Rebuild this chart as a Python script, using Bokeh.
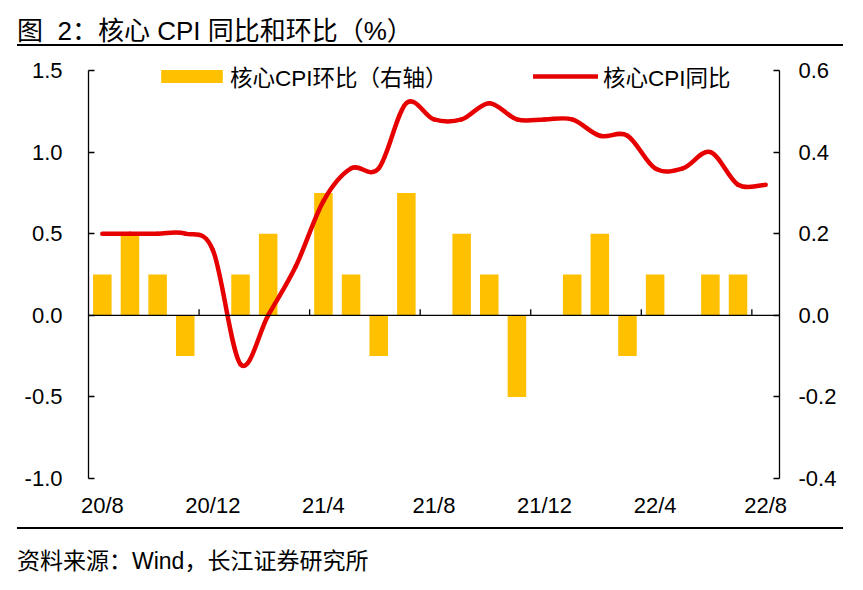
import numpy as np
from bokeh.plotting import figure
from bokeh.models import (Range1d, LinearAxis, FixedTicker, Span, Legend, LegendItem,
                          Div, ColumnDataSource, PrintfTickFormatter)
from bokeh.layouts import column
from bokeh.embed import file_html
from bokeh.resources import INLINE

# ---------------- data ----------------
months = ["20/8", "20/9", "20/10", "20/11", "20/12", "21/1", "21/2", "21/3", "21/4",
          "21/5", "21/6", "21/7", "21/8", "21/9", "21/10", "21/11", "21/12", "22/1",
          "22/2", "22/3", "22/4", "22/5", "22/6", "22/7", "22/8"]
core_yoy = [0.5, 0.5, 0.5, 0.5, 0.4, -0.3, 0.0, 0.3, 0.7, 0.9, 0.9, 1.3, 1.2,
            1.2, 1.3, 1.2, 1.2, 1.2, 1.1, 1.1, 0.9, 0.9, 1.0, 0.8, 0.8]
core_mom = [0.1, 0.2, 0.1, -0.1, 0.0, 0.1, 0.2, 0.0, 0.3, 0.1, -0.1, 0.3, 0.0,
            0.2, 0.1, -0.2, 0.0, 0.1, 0.2, -0.1, 0.1, 0.0, 0.1, 0.1, 0.0]
left_ticks = [-1.0, -0.5, 0.0, 0.5, 1.0, 1.5]
right_ticks = [-0.4, -0.2, 0.0, 0.2, 0.4, 0.6]
label_step = 4
title_text = "图&nbsp;&nbsp;2：核心 CPI 同比和环比（%）"
source_text = "资料来源：Wind，长江证券研究所"
bar_label = "核心CPI环比（右轴）"
line_label = "核心CPI同比"

FONT = "'Liberation Sans', 'Noto Sans CJK SC', sans-serif"
BAR_COLOR = "#FFC000"
LINE_COLOR = "#E60000"

n = len(months)
xs = np.arange(n, dtype=float)

# ---------------- figure ----------------
W, H = 847, 480
AXIS_PX = 408          # pixel height of the axis span (-1.0 .. 1.5)
TOP_EXTRA = 8          # frame headroom above the axis top (room for the legend)
MB_L, MB_R, MB_B = 80, 76, 48
MB_T = H - MB_B - AXIS_PX - TOP_EXTRA

l_span = left_ticks[-1] - left_ticks[0]
r_span = right_ticks[-1] - right_ticks[0]
l_end = left_ticks[-1] + TOP_EXTRA * l_span / AXIS_PX
r_end = right_ticks[-1] + TOP_EXTRA * r_span / AXIS_PX

p = figure(width=W, height=H, output_backend="svg", toolbar_location=None,
           x_range=Range1d(-0.5, n - 0.5),
           y_range=Range1d(left_ticks[0], l_end),
           min_border_left=MB_L, min_border_right=MB_R,
           min_border_top=MB_T, min_border_bottom=MB_B,
           outline_line_color=None, background_fill_color="white")
p.margin = (0, 0, 0, 8)
p.xgrid.visible = False
p.ygrid.visible = False
p.extra_y_ranges = {"mom": Range1d(right_ticks[0], r_end)}

# bottom axis: labels only
xa = p.xaxis[0]
xa.ticker = FixedTicker(ticks=list(range(0, n, label_step)))
xa.major_label_overrides = {i: months[i] for i in range(0, n, label_step)}
xa.axis_line_color = None
xa.major_tick_line_color = None
xa.minor_tick_line_color = None
xa.major_tick_out = 0
xa.major_label_standoff = 14
xa.major_label_text_font = FONT
xa.major_label_text_font_size = "22px"
xa.major_label_text_color = "black"

def style_y(ax, standoff):
    ax.axis_line_color = "black"
    ax.axis_line_width = 1.3
    ax.major_tick_line_color = "black"
    ax.major_tick_line_width = 1.3
    ax.major_tick_in = 6
    ax.major_tick_out = 0
    ax.minor_tick_line_color = None
    ax.major_label_standoff = standoff
    ax.major_label_text_font = FONT
    ax.major_label_text_font_size = "22px"
    ax.major_label_text_color = "black"

# left axis
ya = p.yaxis[0]
ya.ticker = FixedTicker(ticks=left_ticks)
ya.formatter = PrintfTickFormatter(format="%.1f")
ya.bounds = (left_ticks[0], left_ticks[-1])
style_y(ya, 26)

# right axis
ra = LinearAxis(y_range_name="mom", ticker=FixedTicker(ticks=right_ticks),
                formatter=PrintfTickFormatter(format="%.1f"),
                bounds=(right_ticks[0], right_ticks[-1]))
style_y(ra, 19)
p.add_layout(ra, "right")

# bars (right axis)
src = ColumnDataSource(dict(x=xs, mom=core_mom))
bars = p.vbar(x="x", top="mom", width=0.67, y_range_name="mom", source=src,
              fill_color=BAR_COLOR, line_color=None)

# zero line with category-boundary ticks
p.add_layout(Span(location=0, dimension="width", line_color="black", line_width=1.3))
tick_x = [i - 0.5 for i in range(label_step, n, label_step)]
tick_len = 6 * l_span / AXIS_PX
p.segment(x0=tick_x, y0=[0] * len(tick_x), x1=tick_x, y1=[tick_len] * len(tick_x),
          line_color="black", line_width=1.3)

# smoothed line (Catmull-Rom as cubic Bezier segments through the data points)
ys = np.array(core_yoy, dtype=float)
px = np.concatenate([[xs[0]], xs, [xs[-1]]])
py = np.concatenate([[ys[0]], ys, [ys[-1]]])
P0x, P1x, P2x, P3x = px[0:n-1], px[1:n], px[2:n+1], px[3:n+2]
P0y, P1y, P2y, P3y = py[0:n-1], py[1:n], py[2:n+1], py[3:n+2]
line = p.bezier(x0=P1x, y0=P1y, x1=P2x, y1=P2y,
                cx0=P1x + (P2x - P0x) / 6, cy0=P1y + (P2y - P0y) / 6,
                cx1=P2x - (P3x - P1x) / 6, cy1=P2y - (P3y - P1y) / 6,
                line_color=LINE_COLOR, line_width=4.5, line_cap="round")

# legends
def make_legend(label, r, loc, gw, gh, standoff):
    lg = Legend(items=[LegendItem(label=label, renderers=[r])], location=loc,
                orientation="horizontal", glyph_width=gw, glyph_height=gh,
                label_standoff=standoff, padding=0, margin=0, spacing=0,
                border_line_color=None, background_fill_alpha=0,
                label_text_font=FONT, label_text_font_size="22.5px",
                label_text_color="black")
    p.add_layout(lg)
    return lg

make_legend(bar_label, bars, (65, 386), 77, 16, 0)
make_legend(line_label, line, (445, 386), 65, 16, 5)

# ---------------- title / source ----------------
title_div = Div(text=title_text, width=826, height=38, margin=(8, 0, 0, 17),
                styles={"font-family": FONT, "font-size": "26px", "line-height": "26px",
                        "padding-top": "10px", "border-bottom": "2px solid black",
                        "box-sizing": "border-box", "color": "black",
                        "white-space": "nowrap"})
source_div = Div(text=source_text, width=826, height=52, margin=(1, 0, 0, 17),
                 styles={"font-family": FONT, "font-size": "23px", "line-height": "23px",
                         "padding-top": "21px", "border-top": "2px solid black",
                         "box-sizing": "border-box", "color": "black"})

layout = column(title_div, p, source_div, spacing=0)
open("out.html", "w").write(file_html(layout, INLINE))
